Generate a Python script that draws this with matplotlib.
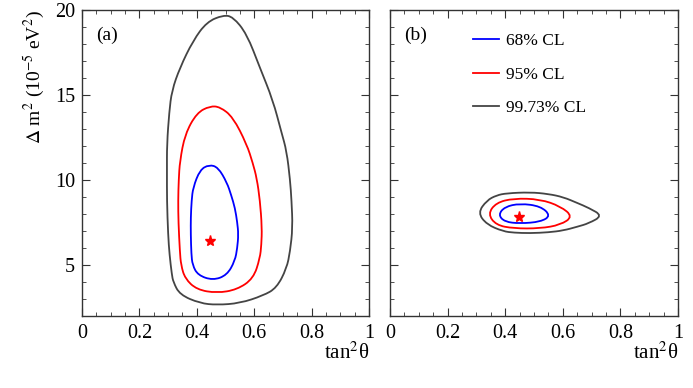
import numpy as np
import matplotlib
matplotlib.use("Agg")
import matplotlib.pyplot as plt
from matplotlib.path import Path
from matplotlib.patches import PathPatch
from matplotlib.lines import Line2D

plt.rcParams['font.family'] = ['Liberation Serif', 'DejaVu Serif']
plt.rcParams['mathtext.fontset'] = 'stix'
plt.rcParams['font.size'] = 12

# panel (a): contours in (tan^2 theta, dm^2 [1e-5 eV^2])
a99_x = [0.492, 0.526, 0.574, 0.620, 0.665, 0.695, 0.713, 0.725, 0.730, 0.734, 0.725, 0.713, 0.678, 0.631, 0.550,
         0.470, 0.411, 0.341, 0.318, 0.313, 0.305, 0.300, 0.296, 0.296, 0.296, 0.304, 0.313, 0.341, 0.387, 0.435]
a99_y = [19.7, 19.6, 18.6, 16.6, 14.7, 12.8, 11.7, 10.0, 8.8, 7.2, 5.8, 4.8, 3.65, 3.2, 2.75,
         2.65, 2.75, 3.25, 4.0, 4.45, 5.6, 6.8, 8.8, 10.5, 12.1, 14.0, 15.25, 16.6, 18.2, 19.3]
a95_x = [0.446, 0.481, 0.526, 0.574, 0.595, 0.609, 0.620, 0.627, 0.625, 0.620, 0.597, 0.540, 0.470, 0.400, 0.359,
         0.345, 0.341, 0.336, 0.335, 0.337, 0.341, 0.359, 0.400]
a95_y = [14.35, 14.3, 13.7, 12.1, 11.0, 10.1, 8.8, 7.2, 6.2, 5.4, 4.2, 3.55, 3.35, 3.55, 4.2,
         5.0, 5.8, 7.5, 8.8, 10.0, 11.1, 12.7, 13.95]
a68_x = [0.443, 0.474, 0.505, 0.520, 0.533, 0.541, 0.545, 0.541, 0.533, 0.505, 0.456, 0.404, 0.385, 0.381, 0.379,
         0.379, 0.382, 0.387, 0.411]
a68_y = [10.9, 10.75, 9.85, 9.1, 8.35, 7.5, 6.8, 6.0, 5.25, 4.4, 4.1, 4.4, 5.0, 5.65, 6.8,
         7.8, 8.8, 9.55, 10.6]
a_best = (0.446, 6.4)

# panel (b)
b99_x = [0.305, 0.336, 0.370, 0.405, 0.486, 0.550, 0.602, 0.650, 0.690, 0.738, 0.690, 0.650, 0.602, 0.550, 0.486,
         0.430, 0.393, 0.336]
b99_y = [8.07, 8.8, 9.1, 9.22, 9.28, 9.18, 8.99, 8.65, 8.36, 7.9, 7.45, 7.25, 7.03, 6.92, 6.87,
         6.9, 6.98, 7.38]
b95_x = [0.340, 0.368, 0.429, 0.521, 0.592, 0.635, 0.592, 0.521, 0.429, 0.368]
b95_y = [8.0, 8.66, 8.92, 8.87, 8.45, 7.85, 7.36, 7.15, 7.15, 7.35]
b68_x = [0.376, 0.398, 0.451, 0.523, 0.558, 0.523, 0.451, 0.398]
b68_y = [7.95, 8.42, 8.62, 8.46, 7.9, 7.54, 7.44, 7.54]
b_best = (0.448, 7.83)

cl_labels = ['68% CL', '95% CL', '99.73% CL']
cl_colors = ['#0000ff', '#ff0000', '#444444']


def smooth_closed(cx, cy):
    # points act as quadratic bezier controls, midpoints are on the curve
    p = np.column_stack([cx, cy])
    n = len(p)
    mids = (p + np.roll(p, -1, axis=0)) / 2
    verts = [mids[-1]]
    codes = [Path.MOVETO]
    for i in range(n):
        verts += [p[i], mids[i]]
        codes += [Path.CURVE3, Path.CURVE3]
    return Path(verts, codes)


fig = plt.figure(figsize=(6.93, 3.88), dpi=100)
axa = fig.add_axes([0.1183, 0.1856, 0.4142, 0.7886])
axb = fig.add_axes([0.5628, 0.1856, 0.4156, 0.7886])

panels = [(axa, [(a68_x, a68_y), (a95_x, a95_y), (a99_x, a99_y)], a_best, '(a)'),
          (axb, [(b68_x, b68_y), (b95_x, b95_y), (b99_x, b99_y)], b_best, '(b)')]

for ax, curves, best, tag in panels:
    for (cx, cy), col in zip(curves, cl_colors):
        ax.add_patch(PathPatch(smooth_closed(cx, cy), fill=False, edgecolor=col, lw=1.3))
    ax.plot(best[0], best[1], marker='*', color='red', ms=8, ls='none')
    ax.set_xlim(0, 1)
    ax.set_ylim(2, 20)
    ax.set_xticks([0, 0.2, 0.4, 0.6, 0.8, 1])
    ax.set_xticklabels(['0', '0.2', '0.4', '0.6', '0.8', '1'])
    ax.set_xticks(np.arange(0, 1.0001, 0.05), minor=True)
    ax.set_yticks([5, 10, 15, 20])
    ax.set_yticks(np.arange(2, 20.5, 1), minor=True)
    ax.tick_params(which='both', direction='in', top=True, right=True, color='#333333')
    ax.tick_params(which='major', length=6, labelsize=14.5)
    ax.tick_params(axis='x', which='major', pad=6)
    ax.tick_params(axis='y', which='major', pad=5)
    ax.tick_params(which='minor', length=3)
    for s in ax.spines.values():
        s.set_color('#333333')
        s.set_linewidth(1.0)
    ax.text(0.05, 0.918, tag, transform=ax.transAxes, ha='left', va='center', fontsize=14)
    ax.text(1.0, -0.12, r'tan$^{2}$θ', transform=ax.transAxes, ha='right', va='center', fontsize=15)

axb.set_yticklabels([])
axa.set_ylabel(r'$\Delta$ m$^{2}$ (10$^{-5}$ eV$^{2}$)', fontsize=14, loc='top', labelpad=6)

handles = [Line2D([], [], color=c, lw=1.3) for c in cl_colors]
axb.legend(handles, cl_labels, loc='upper left', bbox_to_anchor=(0.288, 0.925), frameon=False, borderpad=0,
           borderaxespad=0, handlelength=1.5, handletextpad=0.4, labelspacing=1.0, fontsize=12.5)

fig.savefig('out.png', dpi=100)
